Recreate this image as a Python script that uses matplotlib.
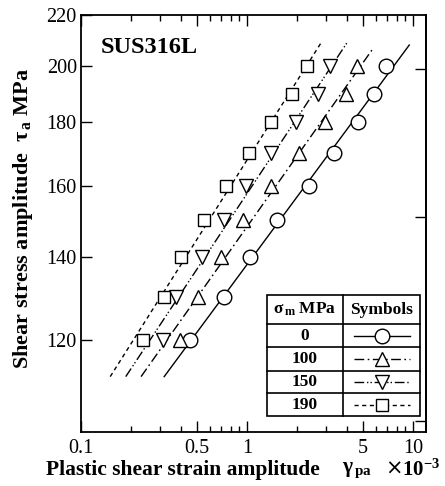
import numpy as np
import matplotlib.pyplot as plt
from matplotlib.ticker import FixedLocator, NullFormatter, NullLocator, FixedFormatter

plt.rcParams['font.family'] = ['Liberation Serif', 'DejaVu Serif']
plt.rcParams['mathtext.fontset'] = 'custom'
plt.rcParams['mathtext.rm'] = 'Liberation Serif'
plt.rcParams['mathtext.bf'] = 'Liberation Serif:bold'
plt.rcParams['mathtext.it'] = 'Liberation Serif:italic'

# stress amplitude levels (MPa)
tau = [120, 130, 140, 150, 160, 170, 180, 190, 200]
# plastic shear strain amplitude x1e-3 for each mean stress
gam_0 = [0.453, 0.725, 1.04, 1.52, 2.35, 3.33, 4.64, 5.85, 6.87]
gam_100 = [0.394, 0.504, 0.70, 0.946, 1.40, 2.05, 2.93, 3.95, 4.58]
gam_150 = [0.313, 0.372, 0.532, 0.725, 0.99, 1.40, 1.98, 2.67, 3.14]
gam_190 = [0.237, 0.316, 0.398, 0.55, 0.742, 1.03, 1.40, 1.86, 2.29]

# fitted lines, end points (strain, stress)
fit_0 = ([0.317, 9.49], [112.0, 208.0])
fit_100 = ([0.230, 5.66], [112.0, 206.1])
fit_150 = ([0.186, 4.04], [112.0, 209.3])
fit_190 = ([0.150, 2.82], [112.0, 209.3])

sigma_m = ['0', '100', '150', '190']

fig = plt.figure(figsize=(4.45, 4.86), dpi=100)
ax = fig.add_axes([81/445, 1-432/486, 345/445, 417/486])

styles = ['-', (0, (7, 2.5, 1.2, 2.5)), (0, (7, 2, 1, 1.5, 1, 2)), (0, (3, 2.5))]
markers = ['o', '^', 'v', 's']
msizes = [10.5, 9.5, 9.5, 8.5]
series = [gam_0, gam_100, gam_150, gam_190]
fits = [fit_0, fit_100, fit_150, fit_190]

for g, f, ls, mk, ms in zip(series, fits, styles, markers, msizes):
    ax.plot(f[0], f[1], color='black', lw=1.0, linestyle=ls)
    ax.plot(g, tau, linestyle='none', marker=mk, ms=ms, mfc='white',
            mec='black', mew=1.0)

ax.set_xscale('log')
ax.set_yscale('log')
ax.set_xlim(0.1, 11.97)
ax.set_ylim(101, 220)

ax.xaxis.set_major_locator(FixedLocator([0.1, 0.5, 1, 5, 10]))
ax.xaxis.set_major_formatter(FixedFormatter(['0.1', '0.5', '1', '5', '10']))
ax.xaxis.set_minor_locator(FixedLocator([0.2, 0.3, 0.4, 0.6, 0.7, 0.8, 0.9,
                                         2, 3, 4, 6, 7, 8, 9]))
ax.xaxis.set_minor_formatter(NullFormatter())
yt = [120, 140, 160, 180, 200, 220]
ax.yaxis.set_major_locator(FixedLocator(yt))
ax.yaxis.set_major_formatter(FixedFormatter([str(v) for v in yt]))
ax.yaxis.set_minor_locator(NullLocator())

ax.tick_params(which='both', direction='in', top=True, right=False,
               labelsize=14.5, width=1.0)
ax.tick_params(axis='x', which='major', pad=5)
ax.tick_params(axis='y', which='major', pad=3)
ax.tick_params(which='major', length=8)
ax.tick_params(which='minor', length=4)
for s in ax.spines.values():
    s.set_linewidth(1.3)

sec = ax.secondary_yaxis('right')
sec.set_yticks([103, 151, 199])
sec.yaxis.set_minor_locator(NullLocator())
sec.tick_params(direction='in', length=8, width=1.0, labelright=False)
sec.spines['right'].set_linewidth(1.3)

ax.text((101-81)/345, (432-48)/417, 'SUS316L', transform=ax.transAxes,
        fontsize=17.5, fontweight='bold', va='center', ha='left')

# x axis title in pieces
yl = 1-470/486
fig.text(46/445, yl, 'Plastic shear strain amplitude',
         fontsize=15.5, fontweight='bold', ha='left', va='center')
fig.text(342/445, yl, '\u03b3$_{\\,\\mathbf{pa}}$',
         fontsize=15.5, fontweight='bold', ha='left', va='center')
fig.text(394/445, yl + 0.002, '\u00d7', family='DejaVu Sans',
         fontsize=15, ha='center', va='center')
fig.text(402/445, yl, '10$^{\\mathbf{-3}}$',
         fontsize=15, fontweight='bold', ha='left', va='center')
fig.text(23/445, 1-218/486, 'Shear stress amplitude  \u03c4$_{\\,\\mathbf{a}}$ MPa',
         fontsize=16, fontweight='bold', ha='center', va='center', rotation=90)

# legend table
tx0, tx1, txm = 0.538, 0.983, 0.760
rows = [0.3285, 0.2583, 0.2031, 0.1470, 0.0928, 0.0384]
tk = dict(transform=ax.transAxes, color='black', lw=1.2, clip_on=False)
ax.add_patch(plt.Rectangle((tx0, rows[-1]), tx1-tx0, rows[0]-rows[-1],
                           transform=ax.transAxes, fc='white', ec='black', lw=1.2, zorder=3))
for r in rows[1:-1]:
    ax.plot([tx0, tx1], [r, r], zorder=4, **tk)
ax.plot([txm, txm], [rows[0], rows[-1]], zorder=4, **tk)
ax.text((tx0+txm)/2, (rows[0]+rows[1])/2, '\u03c3$_{\\,\\mathbf{m}}$ MPa', transform=ax.transAxes,
        fontsize=12.5, fontweight='bold', ha='center', va='center', zorder=5)
ax.text((txm+tx1)/2, (rows[0]+rows[1])/2, 'Symbols', transform=ax.transAxes,
        fontsize=12.5, fontweight='bold', ha='center', va='center', zorder=5)
for i in range(4):
    yc = (rows[i+1]+rows[i+2])/2
    ax.text((tx0+txm)/2, yc, sigma_m[i], transform=ax.transAxes,
            fontsize=12.5, fontweight='bold', ha='center', va='center', zorder=5)
    xc = (txm+tx1)/2
    ax.plot([txm+0.03, tx1-0.03], [yc, yc], transform=ax.transAxes, color='black',
            lw=1.0, linestyle=styles[i], zorder=5)
    ax.plot([xc], [yc], transform=ax.transAxes, marker=markers[i], ms=msizes[i],
            mfc='white', mec='black', mew=1.0, zorder=6, linestyle='none')

fig.savefig('out.png', dpi=100)
